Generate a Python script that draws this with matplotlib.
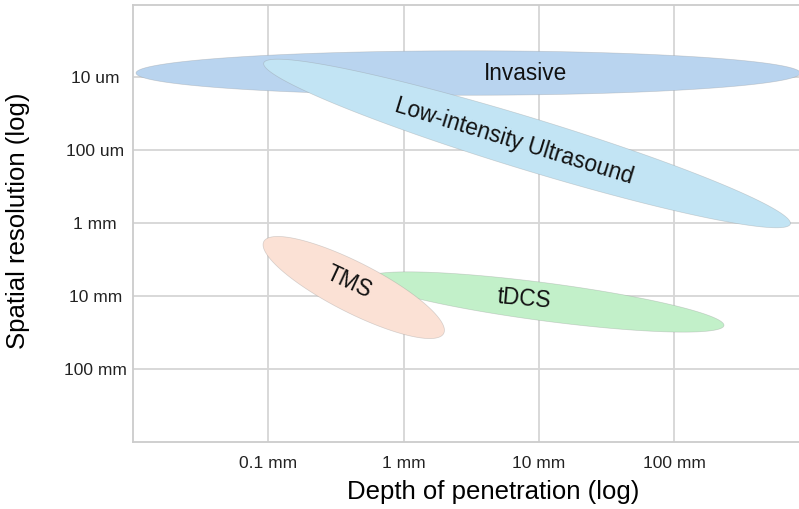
import numpy as np
import matplotlib
matplotlib.use("Agg")
import matplotlib.pyplot as plt
from matplotlib.patches import Polygon

plt.rcParams['font.family'] = ['Liberation Sans', 'DejaVu Sans']

# ---- data (log10 of millimetres) ----
techniques = ['Invasive', 'Low-intensity Ultrasound', 'tDCS', 'TMS']
# depth of penetration at the two ends of each ellipse's long axis
depth_start = [-1.98, -1.035, -0.27, -1.035]
depth_end = [2.934, 2.86, 2.369, 0.296]
# spatial resolution at those ends
res_start = [-2.053, -2.191, 0.765, 0.259]
res_end = [-2.053, 0.018, 1.41, 1.519]
# half thickness of each ellipse, in decades of resolution
res_spread = [0.305, 0.357, 0.261, 0.343]
# label anchor points
label_depth = [0.902, 0.813, 0.887, -0.407]
label_res = [-2.04, -1.122, 1.047, 0.813]
label_rot = [0, -17, -5, -25]
colors = ['#b9d4ef', '#c2e4f4', '#c2f0c9', '#fbe1d5']

depth_ticks = [-1, 0, 1, 2]
depth_labels = ['0.1 mm', '1 mm', '10 mm', '100 mm']
res_ticks = [-2, -1, 0, 1, 2]
res_labels = ['10 um', '100 um', '1 mm', '10 mm', '100 mm']

fig = plt.figure(figsize=(7.99, 5.09), dpi=100)
W, H = 799, 509
left, right, top, bottom = 133.3, 799, 4.7, 442
ax = fig.add_axes([left / W, 1 - bottom / H, (right - left) / W, (bottom - top) / H])
ax.set_xlim(-2.0, 2.924)
ax.set_ylim(3.008, -2.99)

ax.set_xticks(depth_ticks)
ax.set_xticklabels(depth_labels)
ax.set_yticks(res_ticks)
ax.set_yticklabels(res_labels)
ax.tick_params(axis='both', length=0, labelsize=12.5, colors='#222222')
ax.tick_params(axis='x', pad=10)
ax.tick_params(axis='y', pad=27.4)
for lab in ax.get_yticklabels():
    lab.set_horizontalalignment('center')

ax.grid(True, color='#d6d6d6', lw=1.3)
ax.set_axisbelow(True)
for s in ['left', 'top', 'bottom']:
    ax.spines[s].set_color('#cccccc')
    ax.spines[s].set_linewidth(1.3)
ax.spines['right'].set_visible(False)

ax.set_xlabel('Depth of penetration (log)', fontsize=18.5)
ax.set_ylabel('Spatial resolution (log)', fontsize=18.5)
ax.xaxis.set_label_coords((493 - left) / (right - left), (bottom - 492) / (bottom - top))
ax.xaxis.label.set_verticalalignment('center')
ax.yaxis.set_label_coords((18 - left) / (right - left), 0.505)
ax.yaxis.label.set_verticalalignment('center')


def ellipse_points(x0, y0, x1, y1, half):
    T = ax.transData
    p0 = T.transform((x0, y0))
    p1 = T.transform((x1, y1))
    c = (p0 + p1) / 2
    u = (p1 - p0) / 2
    a = np.hypot(*u)
    sy = abs(T.transform((0, 1))[1] - T.transform((0, 0))[1])
    b = half * sy
    n = np.array([-u[1], u[0]]) / a
    t = np.linspace(0, 2 * np.pi, 400)
    pts = c + np.outer(np.cos(t), u) + np.outer(np.sin(t), n * b)
    return T.inverted().transform(pts)


for i, name in enumerate(techniques):
    pts = ellipse_points(depth_start[i], res_start[i], depth_end[i], res_end[i], res_spread[i])
    poly = Polygon(pts, closed=True, facecolor=colors[i], edgecolor=(0.55, 0.55, 0.55, 0.35),
                   lw=0.5, zorder=2 + i)
    ax.add_patch(poly)

for i, name in enumerate(techniques):
    ax.text(label_depth[i], label_res[i], name, rotation=label_rot[i],
            rotation_mode='anchor', ha='center', va='center', fontsize=16.3,
            color='#111111', zorder=10)

fig.savefig('out.png', dpi=100)
